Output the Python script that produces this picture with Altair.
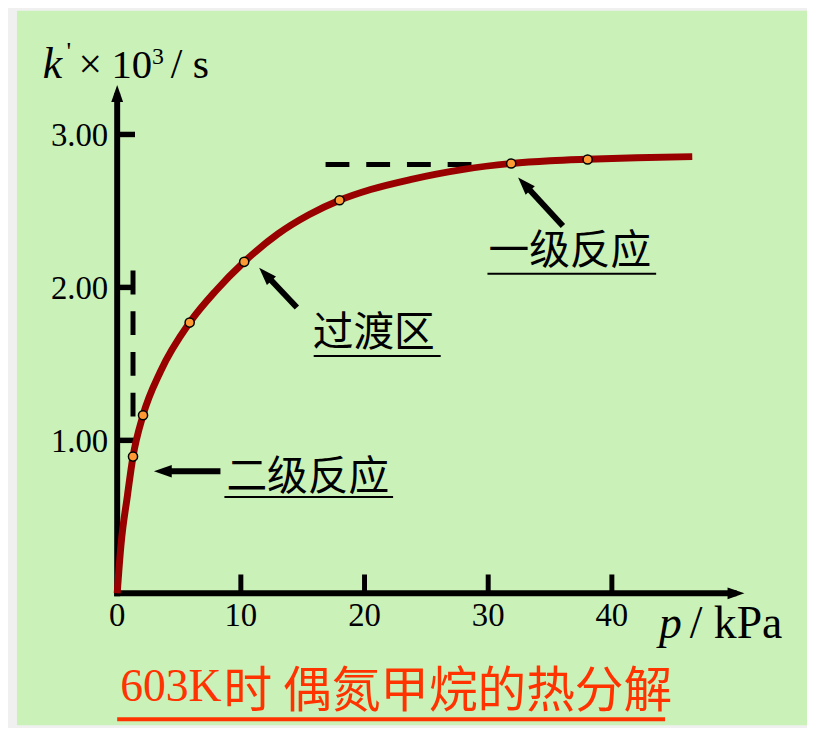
import altair as alt
import pandas as pd

# ---------------- data ----------------
curve_p = [0, 0.30, 0.83, 1.28, 2.09, 3.5, 5.86, 8.0, 10.27, 13.0, 15.5, 17.98, 20.5, 23.7, 28.0,
           31.86, 35.0, 38.04, 42.0, 46.5]
curve_k = [0, 0.31, 0.64, 0.894, 1.164, 1.45, 1.77, 1.98, 2.167, 2.35, 2.475, 2.57, 2.64, 2.705, 2.772,
           2.81, 2.828, 2.838, 2.848, 2.855]
point_p = [1.28, 2.09, 5.86, 10.27, 17.98, 31.86, 38.04]
point_k = [0.894, 1.164, 1.77, 2.167, 2.57, 2.81, 2.836]
x_label_values = [0, 10, 20, 30, 40]
y_label_values = [1, 2, 3]
x_tick_values = [10, 20, 30, 40]

annot_texts = ["二级反应", "过渡区", "一级反应"]
title_num = "603K"
title_cn = "时 偶氮甲烷的热分解"

# ---------------- styling ----------------
GREEN = "#caf1b8"
RED = "#ff3300"
CURVE = "#990000"
SERIF = "Liberation Serif"
CJK = "Noto Sans CJK SC"

xs = alt.Scale(domain=[-8.106, 55.778], nice=False, zero=False)
ys = alt.Scale(domain=[-0.8631, 3.8092], nice=False, zero=False)


def X(f, **kw):
    return alt.X(f, type="quantitative", scale=xs, axis=None, **kw)


def Y(f, **kw):
    return alt.Y(f, type="quantitative", scale=ys, axis=None, **kw)


ARROW = "M0,0L0.7,2L-0.7,2Z"

# tick labels
xl_df = pd.DataFrame({"p": x_label_values, "k": [0.0] * len(x_label_values),
                      "t": [str(v) for v in x_label_values]})
xlabels = alt.Chart(xl_df).mark_text(font=SERIF, fontSize=33, align="center",
                                     baseline="alphabetic", dy=33, color="black").encode(
    x=X("p"), y=Y("k"), text="t:N")
yl_df = pd.DataFrame({"p": [0.0] * len(y_label_values), "k": y_label_values,
                      "t": ["%.2f" % v for v in y_label_values]})
ylabels = alt.Chart(yl_df).mark_text(font=SERIF, fontSize=33, align="right",
                                     baseline="alphabetic", dx=-9, dy=12, color="black").encode(
    x=X("p"), y=Y("k"), text="t:N")

# dashed guide lines
dash_df = pd.DataFrame({"p": [1.28, 16.85], "p2": [1.28, 29.0],
                        "k": [2.11, 2.803], "k2": [1.14, 2.803]})
dashes = alt.Chart(dash_df).mark_rule(color="black", strokeWidth=5, strokeDash=[24, 17]).encode(
    x=X("p"), x2="p2", y=Y("k"), y2="k2")

# axis lines
axline_df = pd.DataFrame({"p": [0.0, -0.24], "p2": [0.0, 50.08],
                          "k": [-0.0195, 0.0], "k2": [3.27, 0.0]})
axlines = alt.Chart(axline_df).mark_rule(color="black", strokeWidth=6).encode(
    x=X("p"), x2="p2", y=Y("k"), y2="k2")
axheads_df = pd.DataFrame({"p": [0.0, 50.72], "k": [3.3225, 0.0], "a": [0, 90]})
axheads = alt.Chart(axheads_df).mark_point(shape=ARROW, filled=True, color="black",
                                           size=289, opacity=1).encode(
    x=X("p"), y=Y("k"), angle=alt.Angle("a:Q", scale=None))

# tick marks (pointing inward)
xt_df = pd.DataFrame({"p": x_tick_values})
xt_df["k"] = 0.0
xt_df["k2"] = 0.123
xticks = alt.Chart(xt_df).mark_rule(color="black", strokeWidth=5).encode(
    x=X("p"), y=Y("k"), y2="k2")
yt_df = pd.DataFrame({"k": y_label_values})
yt_df["p"] = 0.0
yt_df["p2"] = 1.44
yticks = alt.Chart(yt_df).mark_rule(color="black", strokeWidth=5.5).encode(
    y=Y("k"), x=X("p"), x2="p2")

# curve and points
curve_df = pd.DataFrame({"p": curve_p, "k": curve_k})
curve = alt.Chart(curve_df).mark_line(color=CURVE, strokeWidth=7, interpolate="monotone").encode(
    x=X("p"), y=Y("k"))
pts_df = pd.DataFrame({"p": point_p, "k": point_k})
pts = alt.Chart(pts_df).mark_point(shape="circle", filled=True, fill="#ff9933", stroke="black",
                                   strokeWidth=1.5, size=85, opacity=1).encode(
    x=X("p"), y=Y("k"))

# annotation arrows
arr_df = pd.DataFrame({"p": [8.35, 14.53, 36.04], "k": [0.798, 1.869, 2.401],
                       "p2": [3.9, 12.05, 32.97], "k2": [0.798, 2.081, 2.671]})
arr_shafts = alt.Chart(arr_df).mark_rule(color="black", strokeWidth=6).encode(
    x=X("p"), x2="p2", y=Y("k"), y2="k2")
head_df = pd.DataFrame({"p": [2.97, 11.48, 32.42], "k": [0.798, 2.128, 2.719],
                        "a": [270, 316.5, 317.4]})
arr_heads = alt.Chart(head_df).mark_point(shape=ARROW, filled=True, color="black",
                                          size=324, opacity=1).encode(
    x=X("p"), y=Y("k"), angle=alt.Angle("a:Q", scale=None))

# annotation texts and underlines
ann_df = pd.DataFrame({"p": [8.83, 15.81, 30.02], "k": [0.675, 1.616, 2.154], "t": annot_texts})
ann = alt.Chart(ann_df).mark_text(font=CJK, fontSize=41, align="left", baseline="alphabetic",
                                  color="black").encode(x=X("p"), y=Y("k"), text="t:N")
ul_df = pd.DataFrame({"p": [8.67, 15.89, 29.94], "p2": [22.31, 26.16, 43.58],
                      "k": [0.629, 1.551, 2.090]})
ul = alt.Chart(ul_df).mark_rule(color="black", strokeWidth=2).encode(
    x=X("p"), x2="p2", y=Y("k"))


# axis titles
def label(df, **kw):
    return alt.Chart(pd.DataFrame(df)).mark_text(align="left", baseline="alphabetic",
                                                 color="black", font=SERIF, **kw).encode(
        x=X("p"), y=Y("k"), text="t:N")


ytitle_k = label({"p": [-6.02], "k": [3.368], "t": ["k"]}, fontSize=44, fontStyle="italic")
ytitle_prime = label({"p": [-4.09], "k": [3.485], "t": ["'"]}, fontSize=26)
ytitle_x = label({"p": [-3.13], "k": [3.368], "t": ["×"]}, fontSize=42)
ytitle_10 = label({"p": [-0.46], "k": [3.368], "t": ["10"]}, fontSize=41)
ytitle_3 = label({"p": [2.81], "k": [3.459], "t": ["3"]}, fontSize=24)
ytitle_s = label({"p": [4.33], "k": [3.368], "t": ["/  s"]}, fontSize=42)

xtitle_p = label({"p": [43.82], "k": [-0.292], "t": ["p"]}, fontSize=46, fontStyle="italic")
xtitle_u = label({"p": [46.3], "k": [-0.292], "t": ["/ kPa"]}, fontSize=46)

# bottom title
t_num = alt.Chart(pd.DataFrame({"p": [0.24], "k": [-0.701], "t": [title_num]})).mark_text(
    align="left", baseline="alphabetic", color=RED, font=SERIF, fontSize=46).encode(
    x=X("p"), y=Y("k"), text="t:N")
t_cn = alt.Chart(pd.DataFrame({"p": [8.6], "k": [-0.746], "t": [title_cn]})).mark_text(
    align="left", baseline="alphabetic", color=RED, font=CJK, fontSize=49).encode(
    x=X("p"), y=Y("k"), text="t:N")
t_ul = alt.Chart(pd.DataFrame({"p": [0.0], "p2": [44.3], "k": [-0.824]})).mark_rule(
    color=RED, strokeWidth=4).encode(x=X("p"), x2="p2", y=Y("k"))

chart = alt.layer(
    dashes, axlines, axheads, xticks, yticks, xlabels, ylabels, curve, pts,
    arr_shafts, arr_heads, ann, ul,
    ytitle_k, ytitle_prime, ytitle_x, ytitle_10, ytitle_3, ytitle_s, xtitle_p, xtitle_u,
    t_num, t_cn, t_ul,
).properties(
    width=796, height=720, autosize="none",
    padding={"left": 9, "top": 0, "right": 0, "bottom": 0},
    background="#f0f0f0",
).configure_view(stroke=None, fill=GREEN)

chart.save("out.html", embed_options={"renderer": "svg", "actions": False})
